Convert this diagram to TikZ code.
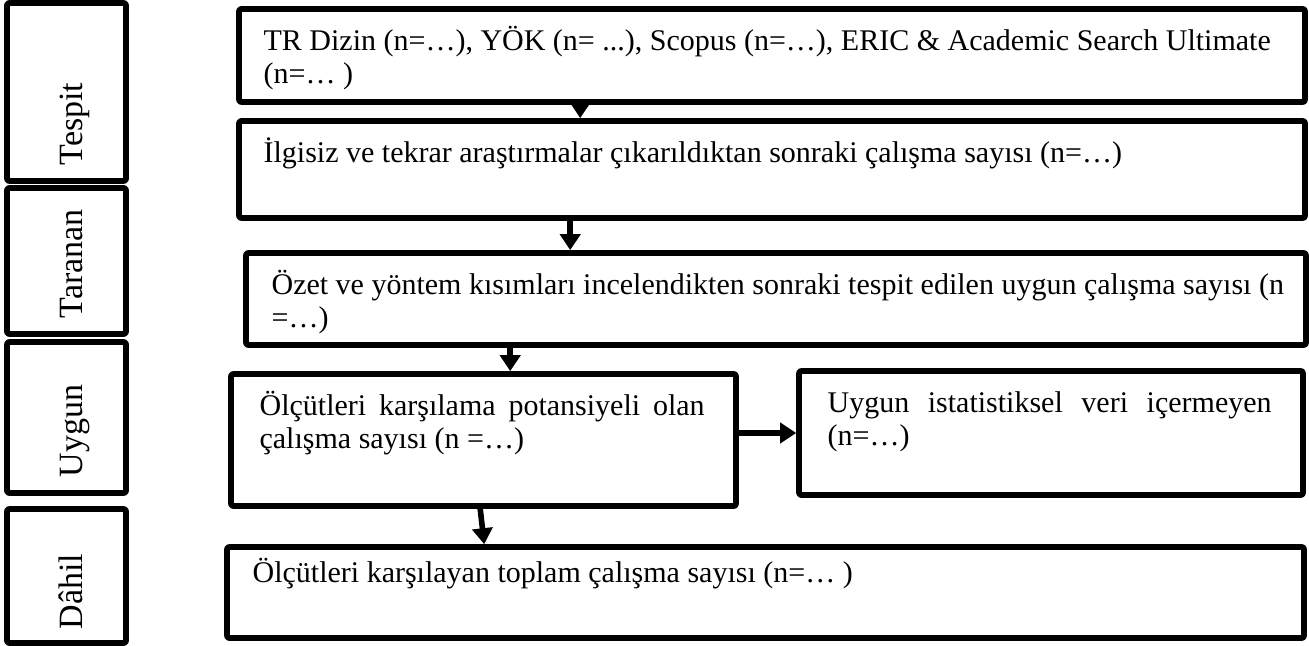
\documentclass[tikz,border=0pt]{standalone}
\usepackage{fontspec}
\setmainfont{Liberation Serif}
\usetikzlibrary{arrows.meta}

\newcommand{\topstrut}{\rule{0pt}{14pt}}

\begin{document}
\begin{tikzpicture}[x=0.5pt, y=-0.5pt,
    stage/.style={draw, line width=2.8pt, rounded corners=1pt, line join=round, inner sep=0pt},
    stagetext/.style={anchor=north west, inner sep=0pt, align=left, font=\fontsize{15}{16.5}\selectfont},
    phase/.style={anchor=base west, rotate=90, inner sep=0pt, font=\fontsize{17}{19}\selectfont},
    flow/.style={line width=2.8pt, -{Triangle[width=10pt,length=8pt]}}]

    \useasboundingbox (0,0) rectangle (1309,646);

    % Phase boxes on the left
    \node[stage, minimum width=59.5pt, minimum height=89pt] (tespit) at (66.5,92) {};
    \node[stage, minimum width=59.5pt, minimum height=73pt] (taranan) at (66.5,261) {};
    \node[stage, minimum width=59.5pt, minimum height=75.5pt] (uygun) at (66.5,417.5) {};
    \node[stage, minimum width=59.5pt, minimum height=67pt] (dahil) at (66.5,576) {};

    \node[phase] (ltespit) at ([xshift=39pt, yshift=9pt]tespit.south west) {Tespit};
    \node[phase] (ltaranan) at ([xshift=39pt, yshift=9pt]taranan.south west) {Taranan};
    \node[phase] (luygun) at ([xshift=39pt, yshift=9pt]uygun.south west) {Uygun};
    \node[phase] (ldahil) at ([xshift=39pt, yshift=8pt]dahil.south west) {Dâhil};

    % Flow boxes
    \node[stage, minimum width=533pt, minimum height=46.5pt] (b1) at (772,55.5) {};
    \node[stage, minimum width=533pt, minimum height=48.5pt] (b2) at (772,169.5) {};
    \node[stage, minimum width=530pt, minimum height=46pt] (b3) at (776,299) {};
    \node[stage, minimum width=252.5pt, minimum height=66pt] (b4) at (483.5,440) {};
    \node[stage, minimum width=252pt, minimum height=62pt] (b5) at (1051,433) {};
    \node[stage, minimum width=538.5pt, minimum height=45.5pt] (b6) at (765.5,592.5) {};

    % Texts of the flow boxes
    \node[stagetext] (t1) at ([xshift=13.5pt, yshift=-8pt]b1.north west)
        {\topstrut TR Dizin (n=…), YÖK (n= ...), Scopus (n=…), ERIC \& Academic Search Ultimate\\(n=… )};
    \node[stagetext] (t2) at ([xshift=13.5pt, yshift=-8pt]b2.north west)
        {\topstrut İlgisiz ve tekrar araştırmalar çıkarıldıktan sonraki çalışma sayısı (n=…)};
    \node[stagetext] (t3) at ([xshift=14pt, yshift=-8pt]b3.north west)
        {\topstrut Özet ve yöntem kısımları incelendikten sonraki tespit edilen uygun çalışma sayısı (n\\=…)};
    \node[stagetext, text width=222.5pt, align=justify] (t4) at ([xshift=15.5pt, yshift=-8pt]b4.north west)
        {\topstrut Ölçütleri karşılama potansiyeli olan\linebreak çalışma sayısı (n =…)};
    \node[stagetext, text width=222pt, align=justify] (t5) at ([xshift=15.5pt, yshift=-8pt]b5.north west)
        {\topstrut Uygun istatistiksel veri içermeyen\linebreak (n=…)};
    \node[stagetext] (t6) at ([xshift=14pt, yshift=-5pt]b6.north west)
        {\topstrut Ölçütleri karşılayan toplam çalışma sayısı (n=… )};

    % Arrows
    \draw[flow] ([xshift=172pt]b1.south west) -- ([xshift=172pt]b2.north west);
    \draw[flow] ([xshift=167pt]b2.south west) -- ([xshift=163.5pt]b3.north west);
    \draw[flow] ([xshift=133.5pt]b3.south west) -- ([xshift=141pt]b4.north west);
    \draw[flow] ([xshift=126pt]b4.south west) -- ([xshift=130pt]b6.north west);
    \draw[flow] ([yshift=3.5pt]b4.east) -- (b5.west);

\end{tikzpicture}
\end{document}
